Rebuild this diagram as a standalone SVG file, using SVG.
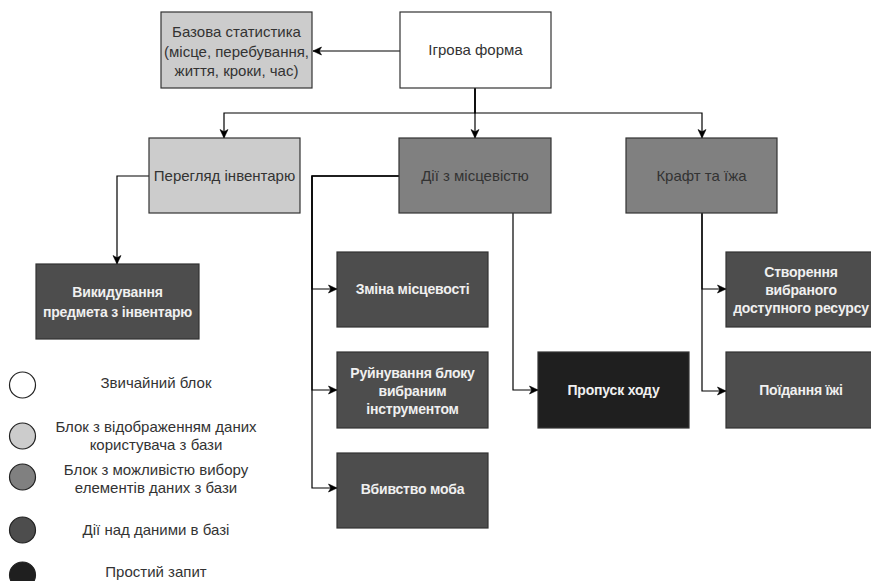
<svg xmlns="http://www.w3.org/2000/svg" width="871" height="581" viewBox="0 0 871 581">
<defs>
<marker id="arr" markerWidth="10" markerHeight="10" refX="9" refY="5" orient="auto" markerUnits="userSpaceOnUse">
<path d="M0.5,1 L9,5 L0.5,9 L2.8,5 z" fill="#000" stroke="#000" stroke-width="0.6"/>
</marker>
<style>
.box{stroke:#333;stroke-width:1.2}
.white{fill:#fff}.light{fill:#ccc}.mid{fill:#808080}.dark{fill:#4d4d4d}.black{fill:#1f1f1f}
text{font-family:"Liberation Sans",Arial,sans-serif;font-size:15px;text-anchor:middle}
.t{fill:#333}
.tw{fill:#f0f0f0;font-weight:bold;font-size:14px;letter-spacing:-0.2px}
.edge{fill:none;stroke:#000;stroke-width:1.2;marker-end:url(#arr)}
.leg{stroke:#222;stroke-width:1.2}
</style>
</defs>
<rect width="871" height="581" fill="#fff"/>
<g id="edges">
<path class="edge" d="M400,51 H313"/>
<path class="edge" d="M475,88 V113 H224 V138"/>
<path class="edge" d="M475,88 V138"/>
<path class="edge" d="M475,88 V113 H702 V138"/>
<path class="edge" d="M149,176 H117 V264"/>
<path class="edge" d="M399,176 H312 V289 H337"/>
<path class="edge" d="M399,176 H312 V390 H337"/>
<path class="edge" d="M399,176 H312 V488 H337"/>
<path class="edge" d="M513,213 V390 H538"/>
<path class="edge" d="M702,213 V289 H726"/>
<path class="edge" d="M702,213 V391 H726"/>
</g>
<g id="base-stats">
<rect class="box light" x="161" y="12" width="151" height="76"/>
<text class="t" x="236.5" y="37">Базова статистика</text>
<text class="t" x="236.5" y="56.5">(місце, перебування,</text>
<text class="t" x="236.5" y="76">життя, кроки, час)</text>
</g>
<g id="game-form">
<rect class="box white" x="400" y="12" width="151" height="76"/>
<text class="t" x="475.5" y="55">Ігрова форма</text>
</g>
<g id="inventory">
<rect class="box light" x="149" y="138" width="151" height="75"/>
<text class="t" x="224.5" y="181">Перегляд інвентарю</text>
</g>
<g id="terrain">
<rect class="box mid" x="399" y="138" width="152" height="75"/>
<text class="t" x="475" y="181">Дії з місцевістю</text>
</g>
<g id="craft">
<rect class="box mid" x="626" y="138" width="151" height="75"/>
<text class="t" x="701.5" y="181">Крафт та їжа</text>
</g>
<g id="drop">
<rect class="box dark" x="36" y="264" width="163" height="75"/>
<text class="tw" x="117.5" y="297">Викидування</text>
<text class="tw" x="117.5" y="317">предмета з інвентарю</text>
</g>
<g id="change-terrain">
<rect class="box dark" x="337" y="252" width="151" height="75"/>
<text class="tw" x="412.5" y="294">Зміна місцевості</text>
</g>
<g id="break-block">
<rect class="box dark" x="337" y="352" width="151" height="76"/>
<text class="tw" x="412.5" y="378">Руйнування блоку</text>
<text class="tw" x="412.5" y="396">вибраним</text>
<text class="tw" x="412.5" y="414">інструментом</text>
</g>
<g id="kill-mob">
<rect class="box dark" x="337" y="453" width="151" height="75"/>
<text class="tw" x="412.5" y="494">Вбивство моба</text>
</g>
<g id="skip-turn">
<rect class="box black" x="538" y="352" width="151" height="76"/>
<text class="tw" x="613.5" y="395">Пропуск ходу</text>
</g>
<g id="create-resource">
<rect class="box dark" x="726" y="252" width="150" height="75"/>
<text class="tw" x="801" y="277">Створення</text>
<text class="tw" x="801" y="295">вибраного</text>
<text class="tw" x="801" y="313">доступного ресурсу</text>
</g>
<g id="eat">
<rect class="box dark" x="726" y="352" width="150" height="76"/>
<text class="tw" x="801" y="395">Поїдання їжі</text>
</g>
<g id="legend">
<circle class="leg" cx="22.5" cy="385" r="13" fill="#fff"/>
<circle class="leg" cx="22.5" cy="436" r="13" fill="#ccc"/>
<circle class="leg" cx="22.5" cy="477" r="13" fill="#808080"/>
<circle class="leg" cx="22.5" cy="530" r="13" fill="#4d4d4d"/>
<circle class="leg" cx="22.5" cy="575" r="13" fill="#1f1f1f"/>
<text class="t" x="156" y="388">Звичайний блок</text>
<text class="t" x="156" y="432">Блок з відображенням даних</text>
<text class="t" x="156" y="450">користувача з бази</text>
<text class="t" x="156" y="475">Блок з можливістю вибору</text>
<text class="t" x="156" y="493">елементів даних з бази</text>
<text class="t" x="156" y="535">Дії над даними в базі</text>
<text class="t" x="156" y="577">Простий запит</text>
</g>
</svg>
